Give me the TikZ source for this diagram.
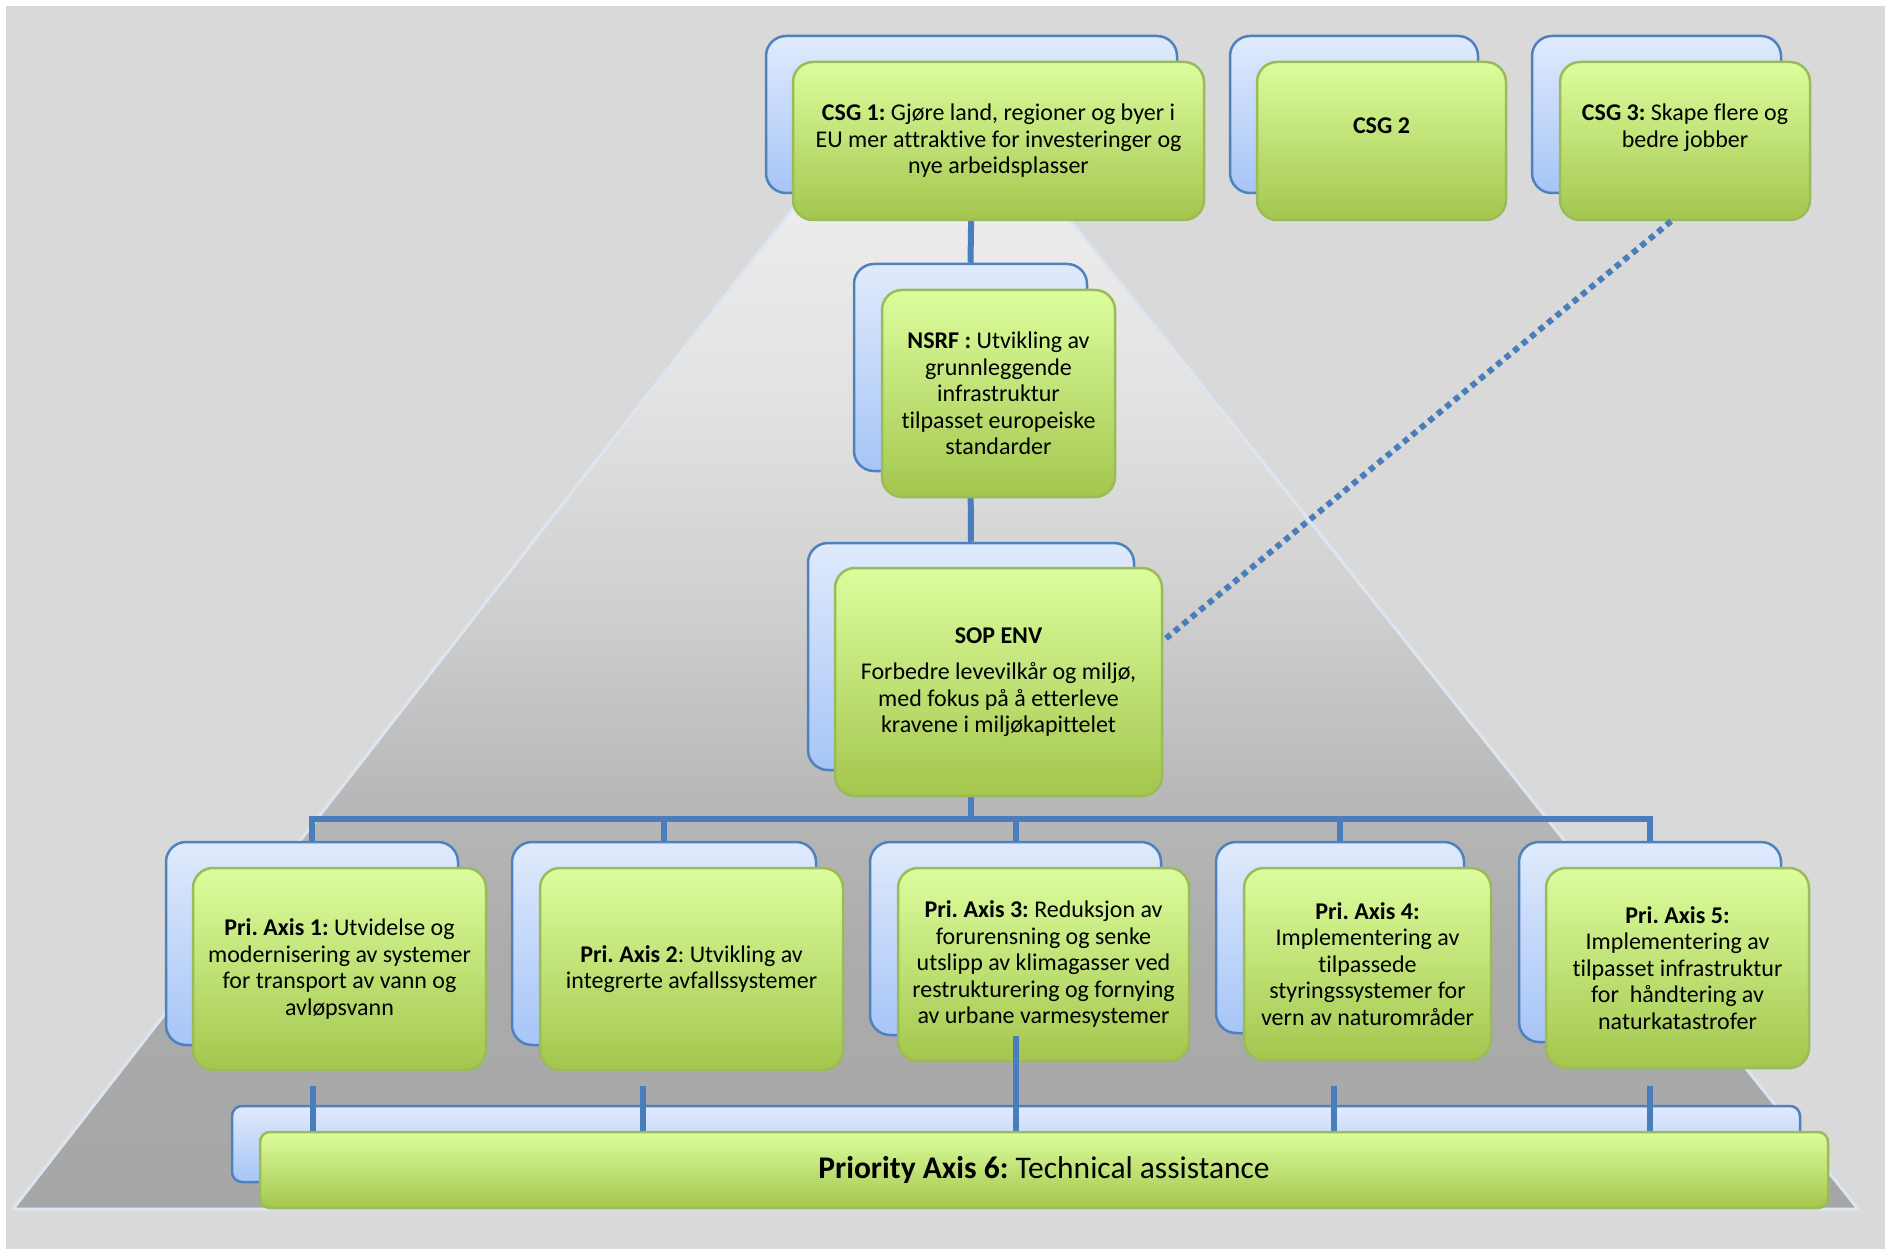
\documentclass[tikz,border=0pt]{standalone}
\usepackage{fontspec}
\setmainfont{Carlito}[Ligatures=NoCommon]
\usetikzlibrary{calc}
\definecolor{bgGray}{HTML}{D9D9D9}
\definecolor{trEdge}{HTML}{DCE6F2}
\definecolor{tA}{HTML}{A6A6A6}
\definecolor{tB}{HTML}{ACACAC}
\definecolor{tC}{HTML}{B8B8B8}
\definecolor{tD}{HTML}{D0D0D0}
\definecolor{tE}{HTML}{E2E2E2}
\definecolor{tF}{HTML}{EEEEEE}
\definecolor{bBorder}{HTML}{4F81BD}
\definecolor{bTop}{HTML}{E0EAFC}
\definecolor{bMid}{HTML}{D1E0FA}
\definecolor{bBot}{HTML}{A6C5F7}
\definecolor{gBorder}{HTML}{9BBB59}
\definecolor{gTop}{HTML}{DCFD9D}
\definecolor{gMid}{HTML}{C3E27C}
\definecolor{gBot}{HTML}{A4C64E}
\definecolor{connCol}{HTML}{4A7EBB}
\pgfdeclareverticalshading{trapshade}{100bp}{color(0bp)=(tA); color(25bp)=(tA); color(37.6bp)=(tB); color(45bp)=(tC); color(54.6bp)=(tD); color(64.3bp)=(tE); color(75bp)=(tF); color(100bp)=(tF)}
\tikzset{
  sz/.style 2 args={minimum width=#1, minimum height=#2},
  backbox/.style={draw=bBorder, line width=2.5pt, rounded corners=20pt, top color=bTop, middle color=bMid, bottom color=bBot, inner sep=0pt},
  frontbox/.style={draw=gBorder, line width=2.5pt, rounded corners=20pt, top color=gTop, middle color=gMid, bottom color=gBot, inner sep=0pt, align=center, font=\frenchspacing\fontsize{24}{26.5}\selectfont},
  txt/.style={inner sep=0pt, align=center, font=\frenchspacing\fontsize{24}{26.5}\selectfont},
  conn/.style={draw=connCol, line width=6pt, line join=miter},
  dotconn/.style={draw=connCol, line width=6pt, dash pattern=on 6pt off 5pt}
}
\begin{document}
\begin{tikzpicture}[x=1pt, y=-1pt]
\useasboundingbox (0,0) rectangle (1885,1249);
\fill[white] (0,0) rectangle (1885,1249);
\fill[bgGray] (6,6) rectangle (1885,1249);
% background trapezoid
\path[shading=trapshade, draw=trEdge, line width=3pt, line join=round]
  (13,1209) -- (1858,1209) -- (1038,180) -- (815,180) -- cycle;

% back boxes
\node[backbox, sz={411pt}{157pt}] (csg1b) at (971.5,114.5) {};
\node[backbox, sz={248pt}{157pt}] (csg2b) at (1354,114.5) {};
\node[backbox, sz={249pt}{157pt}] (csg3b) at (1656.5,114.5) {};
\node[backbox, sz={233pt}{207pt}] (nsrfb) at (970.5,367.5) {};
\node[backbox, sz={326pt}{227pt}] (sopb) at (971,656.5) {};
\node[backbox, sz={292pt}{203pt}] (ax1b) at (312,943.5) {};
\node[backbox, sz={304pt}{203pt}] (ax2b) at (664,943.5) {};
\node[backbox, sz={291pt}{193pt}] (ax3b) at (1015.5,938.5) {};
\node[backbox, sz={248pt}{191pt}] (ax4b) at (1340,937.5) {};
\node[backbox, sz={262pt}{200pt}] (ax5b) at (1650,942) {};
\node[backbox, rounded corners=10pt, sz={1568pt}{76pt}] (pa6b) at (1016,1144) {};

% connectors (behind front boxes)
\coordinate (bus) at (0,819);
\draw[conn] (csg1b.south) -- (nsrfb.north);
\draw[conn] (nsrfb.south) -- (sopb.north);
\draw[conn] (sopb.south) -- (sopb.south |- bus);
\draw[conn] (ax1b.north) -- (ax1b.north |- bus) -- (ax5b.north |- bus) -- (ax5b.north);
\draw[conn] (ax2b.north) -- (ax2b.north |- bus);
\draw[conn] (ax3b.north) -- (ax3b.north |- bus);
\draw[conn] (ax4b.north) -- (ax4b.north |- bus);

% front boxes
\node[frontbox, sz={411pt}{158pt}] (csg1) at (998.5,141)
  {\textbf{CSG 1:} Gjøre land, regioner og byer i\\EU mer attraktive for investeringer og\\nye arbeidsplasser};
\node[frontbox, sz={249pt}{158pt}] (csg2) at (1381.5,141) {};
\node[txt] (csg2t) at (1381.5,126) {\textbf{CSG 2}};
\node[frontbox, sz={250pt}{158pt}] (csg3) at (1685,141) {};
\node[txt] (csg3t) at (1685,127.5) {\textbf{CSG 3:} Skape flere og\\bedre jobber};
\node[frontbox, sz={233pt}{207pt}] (nsrf) at (998.5,393.5)
  {\textbf{NSRF :} Utvikling av\\grunnleggende\\infrastruktur\\tilpasset europeiske\\standarder};
\node[frontbox, sz={327pt}{228pt}] (sop) at (998.5,682)
  {\textbf{SOP ENV}\\[10pt]Forbedre levevilkår og miljø,\\med fokus på å etterleve\\kravene i miljøkapittelet};
\node[frontbox, sz={293pt}{202pt}] (ax1) at (339.5,969)
  {\textbf{Pri. Axis 1:} Utvidelse og\\modernisering av systemer\\for transport av vann og\\avløpsvann};
\node[frontbox, sz={303pt}{202pt}] (ax2) at (691.5,969)
  {\textbf{Pri. Axis 2}: Utvikling av\\integrerte avfallssystemer};
\node[frontbox, sz={291pt}{193pt}] (ax3) at (1043.5,964.5)
  {\textbf{Pri. Axis 3:} Reduksjon av\\forurensning og senke\\utslipp av klimagasser ved\\restrukturering og fornying\\av urbane varmesystemer};
\node[frontbox, sz={247pt}{192pt}] (ax4) at (1367.5,964)
  {\textbf{Pri. Axis 4:}\\Implementering av\\tilpassede\\styringssystemer for\\vern av naturområder};
\node[frontbox, sz={263pt}{200pt}] (ax5) at (1677.5,968)
  {\textbf{Pri. Axis 5:}\\Implementering av\\tilpasset infrastruktur\\for~ håndtering av\\naturkatastrofer};

% lower connectors to PA6 (over back box, under front box)
\coordinate (s1) at (313,1086);
\coordinate (s2) at (643,1086);
\coordinate (s3) at (1334,1086);
\coordinate (s4) at (1650,1086);
\draw[conn] (ax3b.south) -- (ax3b.south |- 0,1132);
\draw[conn] (s1) -- (s1 |- 0,1132);
\draw[conn] (s2) -- (s2 |- 0,1132);
\draw[conn] (s3) -- (s3 |- 0,1132);
\draw[conn] (s4) -- (s4 |- 0,1132);
\node[frontbox, rounded corners=10pt, sz={1568pt}{76pt}, font=\frenchspacing\fontsize{31.5}{36}\selectfont] (pa6) at (1044,1170)
  {\textbf{Priority Axis 6:} Technical assistance};

% dotted link CSG 3 -- SOP ENV
\draw[dotconn] ($(csg3.south)+(-14,0)$) -- ($(sop.east)+(2,-43)$);
\end{tikzpicture}
\end{document}
